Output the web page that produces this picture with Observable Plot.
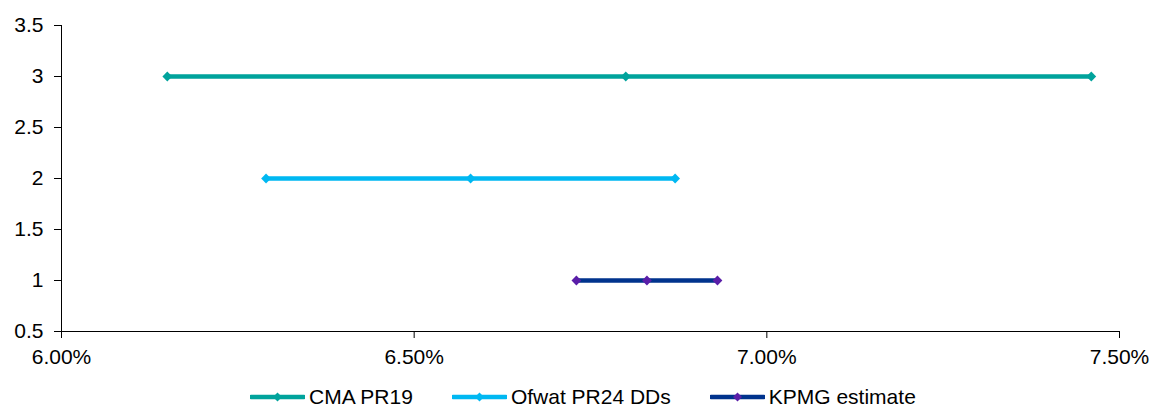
<!DOCTYPE html>
<html>
<head>
<meta charset="utf-8">
<script src="https://cdn.jsdelivr.net/npm/d3@7"></script>
<script src="https://cdn.jsdelivr.net/npm/@observablehq/plot@0.6"></script>
<style>
  html, body { margin: 0; padding: 0; background: #fff; }
  body { width: 1153px; height: 408px; position: relative; overflow: hidden; font-family: Arial, "Liberation Sans", sans-serif; }
  #legend { position: absolute; left: 250px; top: 387px; display: flex; align-items: center; font-size: 21px; line-height: 20px; height: 20px; color: #000; white-space: nowrap; }
  .item { display: flex; align-items: center; margin-right: 39px; }
  .item svg { margin-right: 4px; }
</style>
</head>
<body>
<div id="chart"></div>
<div id="legend"></div>
<script>
const series = ["CMA PR19", "Ofwat PR24 DDs", "KPMG estimate"];
const rowValue = [3, 2, 1];
const lowValues = [6.15, 6.29, 6.73];
const midValues = [6.80, 6.58, 6.83];
const highValues = [7.46, 6.87, 6.93];
const lineColors = ["#00A39C", "#00B8F2", "#00338D"];
const markerColors = ["#00A39C", "#00B8F2", "#5A1EA8"];
const xTicks = [6.0, 6.5, 7.0, 7.5];
const yTicks = [0.5, 1, 1.5, 2, 2.5, 3, 3.5];

const points = [];
series.forEach((s, i) => {
  [lowValues[i], midValues[i], highValues[i]].forEach(v => points.push({series: s, x: v, y: rowValue[i]}));
});

const chart = Plot.plot({
  width: 1153,
  height: 380,
  marginTop: 25,
  marginBottom: 49,
  marginLeft: 61,
  marginRight: 34,
  style: {fontFamily: 'Arial, "Liberation Sans", sans-serif', fontSize: "21px", color: "#000", background: "#fff"},
  x: {domain: [6.0, 7.5]},
  y: {domain: [0.5, 3.5]},
  color: {domain: series, range: lineColors},
  marks: [
    Plot.axisX({ticks: xTicks, tickFormat: d => d.toFixed(2) + "%", tickSize: 7, tickPadding: 11, label: null, stroke: "#000"}),
    Plot.axisY({ticks: yTicks, tickFormat: d => String(d), tickSize: 7, tickPadding: 11, label: null, stroke: "#000"}),
    Plot.ruleX([6.0], {stroke: "#000", strokeWidth: 1}),
    Plot.ruleY([0.5], {stroke: "#000", strokeWidth: 1}),
    Plot.line(points, {x: "x", y: "y", z: "series", stroke: "series", strokeWidth: 4.5}),
    Plot.dot(points, {x: "x", y: "y", symbol: "diamond2", r: 4.4, fill: d => markerColors[series.indexOf(d.series)], stroke: "none"})
  ]
});
document.getElementById("chart").appendChild(chart);

const legend = document.getElementById("legend");
series.forEach((s, i) => {
  const item = document.createElement("div");
  item.className = "item";
  item.innerHTML = `<svg width="55" height="12"><line x1="1" y1="6" x2="54" y2="6" stroke="${lineColors[i]}" stroke-width="4.5" stroke-linecap="round"/><path d="M27.5,1.5 L32,6 L27.5,10.5 L23,6 Z" fill="${markerColors[i]}"/></svg><span>${s}</span>`;
  legend.appendChild(item);
});
</script>
</body>
</html>
